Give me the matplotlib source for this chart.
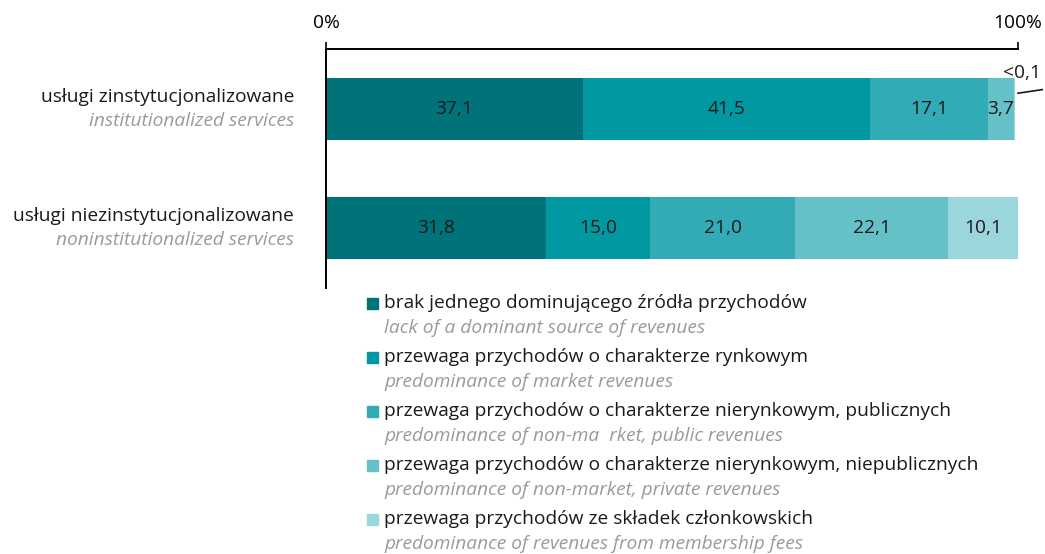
import matplotlib.pyplot as plt
from matplotlib.patches import Rectangle

plt.rcParams['font.family'] = ['Open Sans', 'DejaVu Sans']

# dane
kategorie = ["usługi zinstytucjonalizowane", "usługi niezinstytucjonalizowane"]
kategorie_en = ["institutionalized services", "noninstitutionalized services"]

brak_dominujacego = [37.1, 31.8]
rynkowe = [41.5, 15.0]
nierynkowe_publiczne = [17.1, 21.0]
nierynkowe_niepubliczne = [3.7, 22.1]
skladki = [0.1, 10.1]

etykiety = [
    "brak jednego dominującego źródła przychodów",
    "przewaga przychodów o charakterze rynkowym",
    "przewaga przychodów o charakterze nierynkowym, publicznych",
    "przewaga przychodów o charakterze nierynkowym, niepublicznych",
    "przewaga przychodów ze składek członkowskich",
]
etykiety_en = [
    "lack of a dominant source of revenues",
    "predominance of market revenues",
    "predominance of non-ma  rket, public revenues",
    "predominance of non-market, private revenues",
    "predominance of revenues from membership fees",
]
kolory = ["#00727a", "#0098a1", "#33abb6", "#66c0c8", "#9ad6dc"]

serie = [brak_dominujacego, rynkowe, nierynkowe_publiczne,
         nierynkowe_niepubliczne, skladki]

FS = 13.8

fig = plt.figure(figsize=(10.45, 5.54), dpi=100)
W, H = 1045, 554
ax = fig.add_axes([326 / W, 1 - 288 / H, (1018 - 326) / W, (288 - 49) / H])

pos = [0, 1]
left = [0, 0]
for s, kolor in zip(serie, kolory):
    bars = ax.barh(pos, s, left=left, height=0.52, color=kolor, edgecolor="none")
    for i, b in enumerate(bars):
        v = s[i]
        if v >= 1:
            ax.text(left[i] + v / 2, pos[i], f"{v:.1f}".replace(".", ","),
                    ha="center", va="center", fontsize=FS, color="#1a1a1a")
    left = [l + v for l, v in zip(left, s)]

# etykieta <0,1 z odnośnikiem
ax.text(97.8, -0.3, "<0,1", fontsize=FS, ha="left", va="center", color="#1a1a1a")
ax.plot([100, 103.5], [-0.13, -0.16], color="#1a1a1a", lw=1.2, clip_on=False)

ax.set_xlim(0, 100)
ax.set_ylim(1.5, -0.5)
ax.xaxis.tick_top()
ax.set_xticks([0, 100])
ax.set_xticklabels(["0%", "100%"])
ax.tick_params(axis="x", length=5, width=1.2, pad=7, labelsize=FS)
ax.set_yticks([])
for sp in ["right", "bottom"]:
    ax.spines[sp].set_visible(False)
for sp in ["top", "left"]:
    ax.spines[sp].set_linewidth(1.4)

# etykiety kategorii
for i, (pl, en) in enumerate(zip(kategorie, kategorie_en)):
    ax.text(-4.6, pos[i] - 0.1, pl, ha="right", va="center",
            fontsize=FS, color="#1a1a1a")
    ax.text(-4.6, pos[i] + 0.1, en, ha="right", va="center",
            fontsize=FS, color="#9a9a9a", style="italic")

# legenda
for k, (pl, en, kolor) in enumerate(zip(etykiety, etykiety_en, kolory)):
    y = 303 + k * 54
    fig.patches.append(Rectangle((367 / W, 1 - (y + 5.5) / H), 11 / W, 11 / H,
                                 transform=fig.transFigure, color=kolor))
    fig.text(384 / W, 1 - y / H, pl, ha="left", va="center",
             fontsize=FS, color="#1a1a1a")
    fig.text(384 / W, 1 - (y + 25) / H, en, ha="left", va="center",
             fontsize=FS, color="#9a9a9a", style="italic")

fig.savefig("out.png", dpi=100)
